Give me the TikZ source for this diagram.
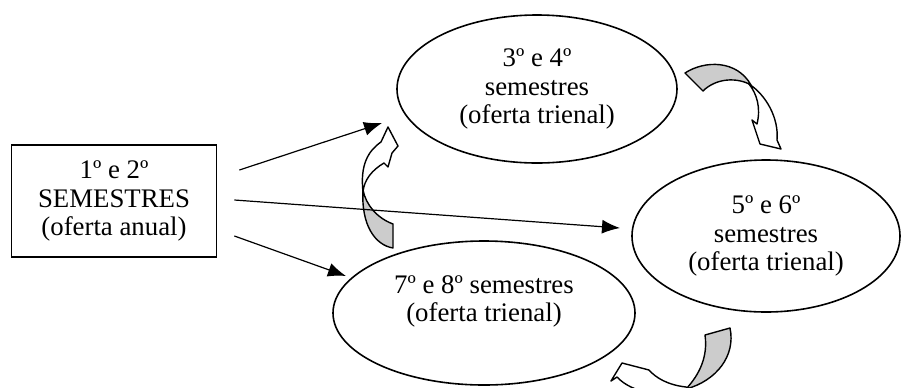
\documentclass[tikz,border=0pt]{standalone}
\usepackage{fontspec}
\setmainfont{Liberation Serif}
\usepackage{tikz}
\usetikzlibrary{arrows.meta,shapes.geometric}
\definecolor{foldgray}{RGB}{204,204,204}
\tikzset{
  flow/.style={-{Latex[length=9pt,width=7pt]},line width=0.6pt},
  semestre/.style={draw=black,line width=0.9pt,fill=white,rectangle,minimum width=102.5pt,
                   minimum height=56pt,inner sep=0pt,align=center},
  oferta/.style={draw=black,line width=0.8pt,fill=white,ellipse,inner sep=0pt,align=center},
  dobra/.style={draw=black,line width=0.7pt,fill=foldgray,line join=round},
  bloco/.style={draw=black,line width=0.7pt,fill=white,line join=round},
}
\begin{document}
\begin{tikzpicture}[x=0.5pt,y=-0.5pt,font=\fontsize{13.4}{14.3}\selectfont]
  \path[use as bounding box] (0,0) rectangle (901,387);

  \filldraw[dobra] (363,190) .. controls (361,225) and (375,245) .. (393,248) -- (393,224)
    .. controls (377,218) and (366,205) .. (363,190) -- cycle;
  \filldraw[bloco] (363,192) .. controls (360,165) and (368,151) .. (381,142) -- (388,127)
    -- (398,146) -- (392,153) -- (388,167) -- (384,163)
    .. controls (372,170) and (364,180) .. (363,192) -- cycle;

  \filldraw[dobra] (685,73) .. controls (705,60) and (737,60) .. (751,85)
    .. controls (737,77) and (716,78) .. (703,91) -- cycle;
  \filldraw[bloco] (749,84) .. controls (766,95) and (779,118) .. (777,140) -- (781,149)
    -- (760,144) -- (752,120) -- (757,124) .. controls (761,108) and (757,94) .. (749,84) -- cycle;

  \filldraw[dobra] (705,335) -- (730,328) .. controls (736,356) and (716,381) .. (686,389)
    .. controls (700,374) and (708,356) .. (705,335) -- cycle;
  \filldraw[bloco] (686,387) .. controls (668,385) and (656,378) .. (649,370) -- (622,363)
    -- (611,381) -- (617,377) .. controls (632,393) and (662,398) .. (692,391) -- cycle;

  \node[semestre] (s12) at (114,201) {1º e 2º\\SEMESTRES\\(oferta anual)};
  \node[oferta,minimum width=140pt,minimum height=74pt] (s34) at (537,89)
    {3º e 4º\\semestres\\(oferta trienal)};
  \node[oferta,minimum width=134pt,minimum height=76pt] (s56) at (766,236)
    {5º e 6º\\semestres\\(oferta trienal)};
  \node[oferta,minimum width=151pt,minimum height=72pt] (s78) at (484,313)
    {7º e 8º semestres\\(oferta trienal)\\\mbox{}};

  \draw[flow] ([shift={(22,-31)}]s12.east) -- ([shift={(-155,34)}]s34.center);
  \draw[flow] ([shift={(17,-1)}]s12.east) -- ([shift={(-146,-8)}]s56.center);
  \draw[flow] ([shift={(17,35)}]s12.east) -- ([shift={(-138,-37)}]s78.center);
\end{tikzpicture}
\end{document}
